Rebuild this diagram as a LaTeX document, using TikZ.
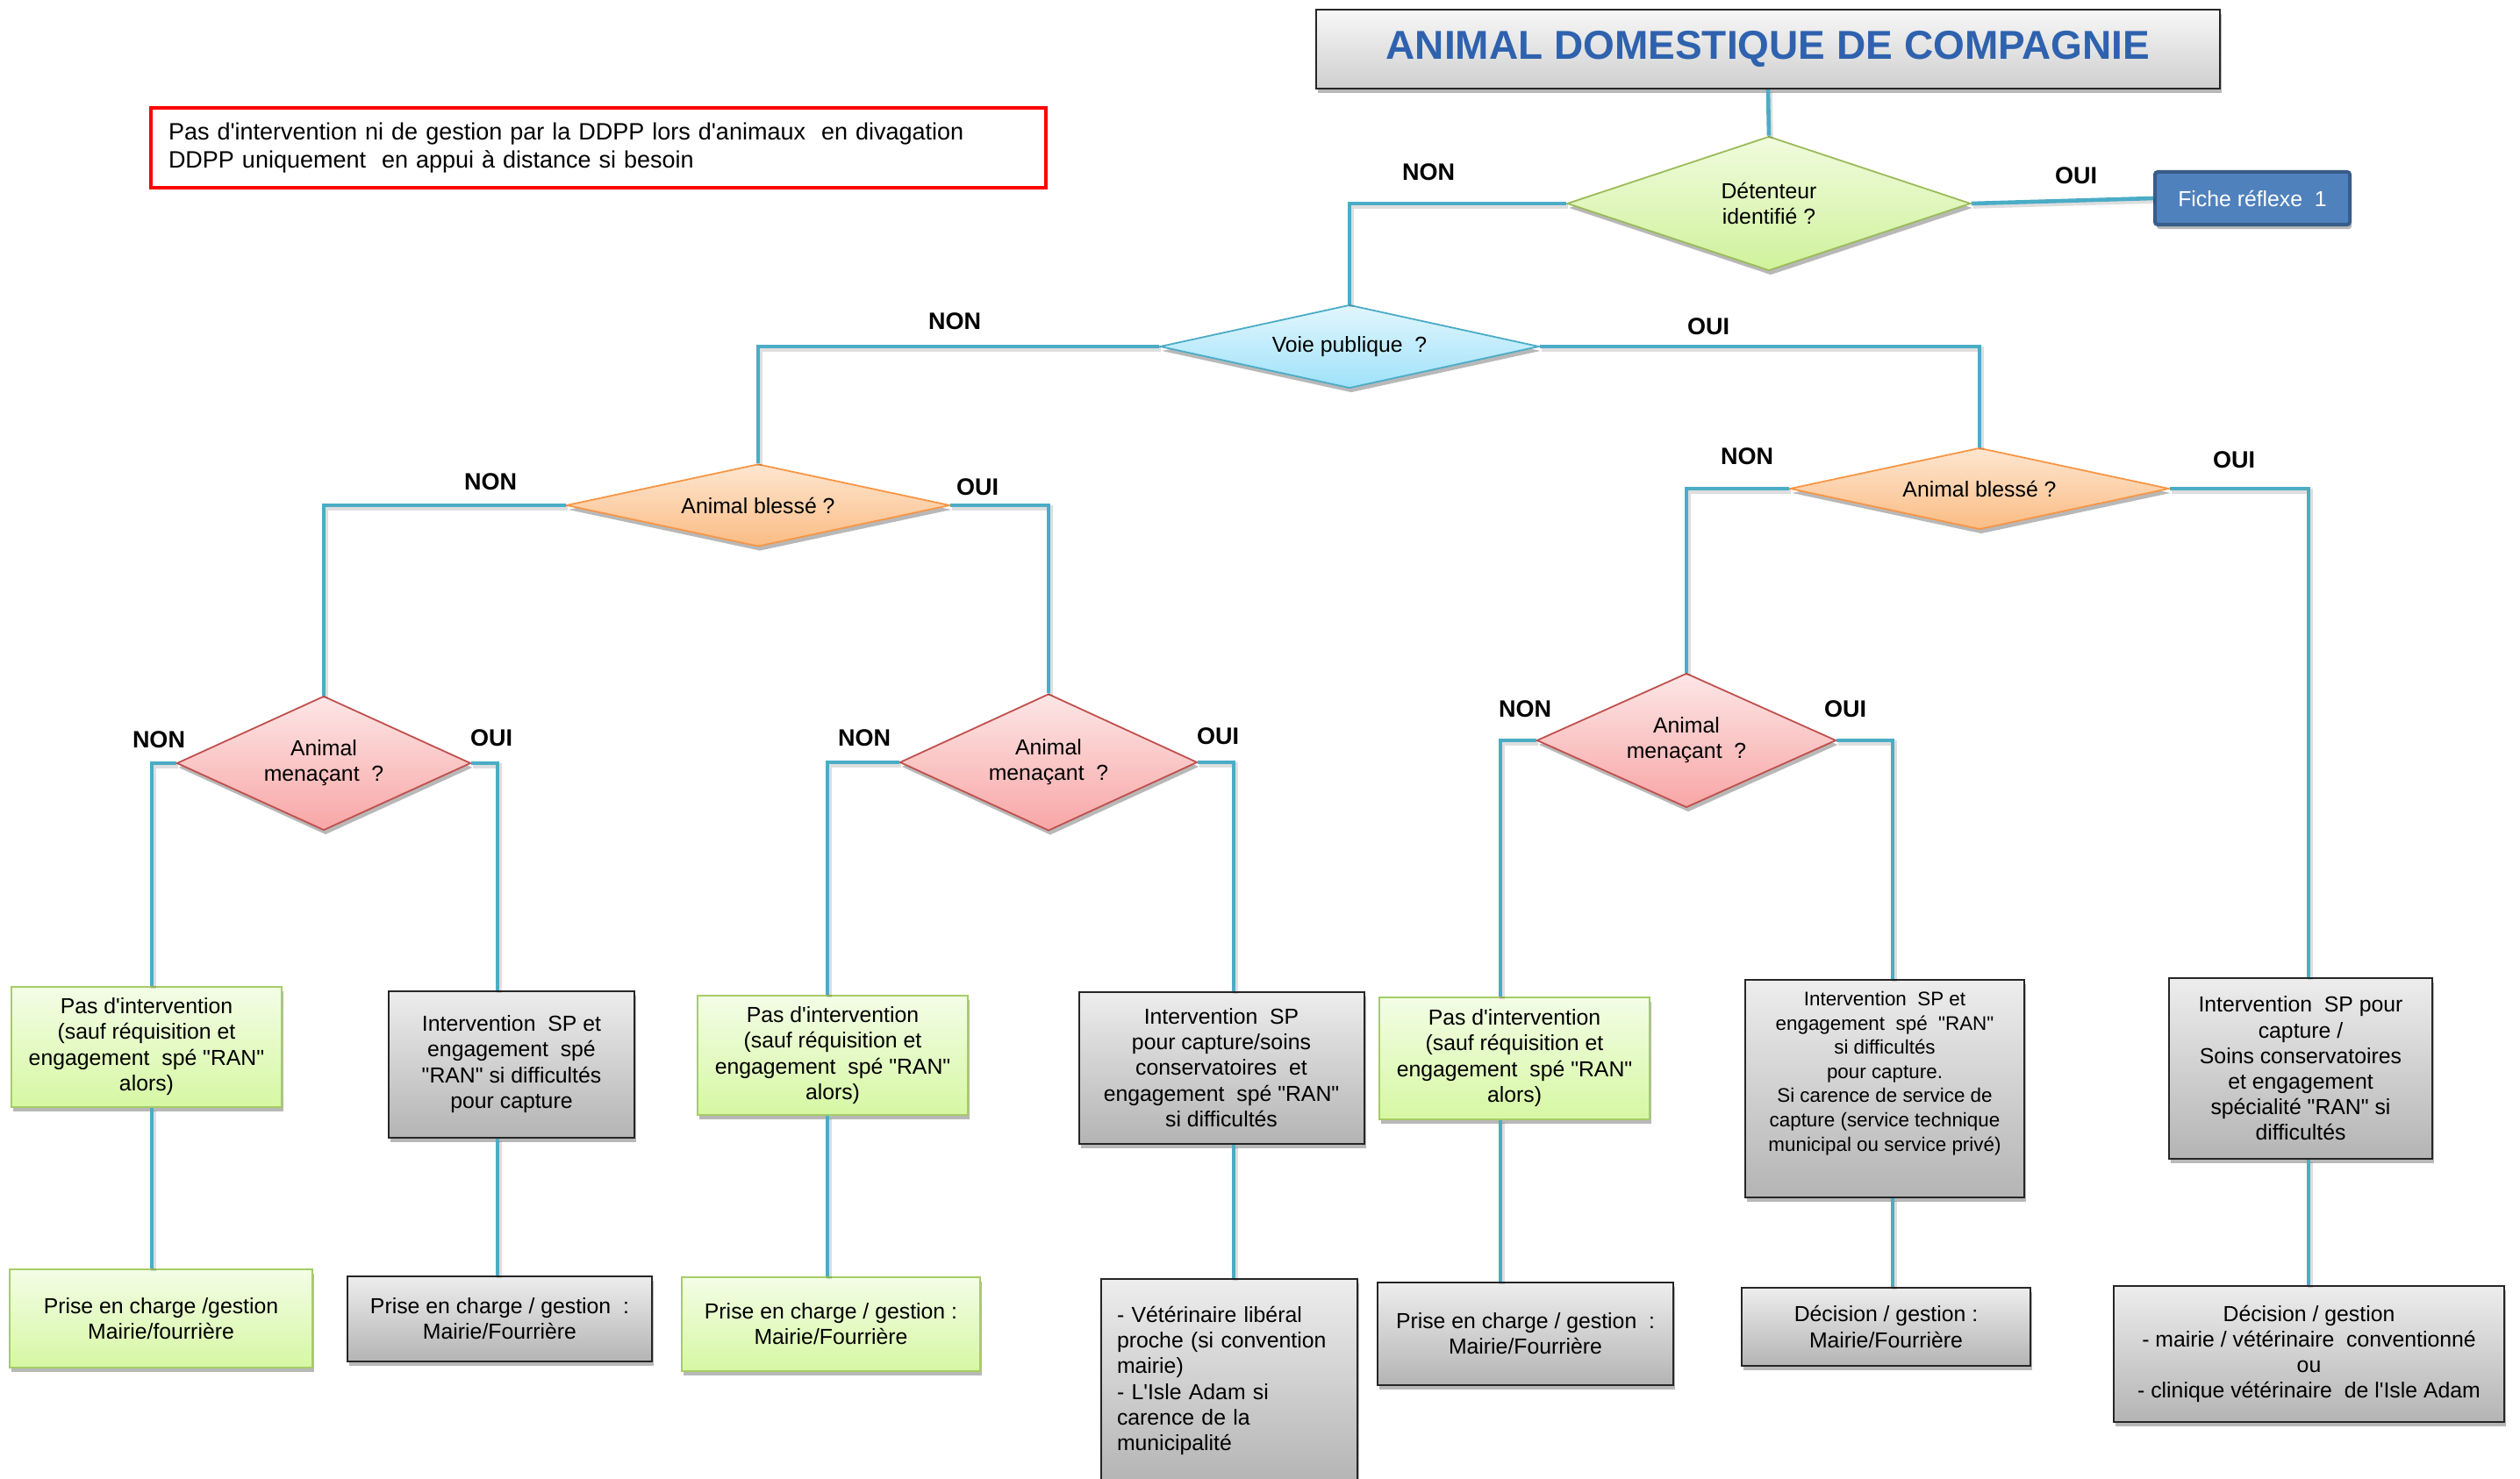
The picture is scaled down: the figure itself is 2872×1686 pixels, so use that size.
\documentclass[tikz,border=0pt]{standalone}
\usepackage{fontspec}
\setmainfont{Liberation Sans}[Ligatures=TeXOff]
\usetikzlibrary{shapes.geometric,shadows,calc}
\definecolor{connc}{HTML}{4BACC6}
\definecolor{titleblue}{HTML}{2F62AE}
\definecolor{grTop}{HTML}{EDEDED}
\definecolor{grBot}{HTML}{B4B4B4}
\definecolor{gnTop}{HTML}{F3FDE6}
\definecolor{gnBot}{HTML}{D6F7A3}
\definecolor{gnBorder}{HTML}{A6CC66}
\definecolor{orTop}{HTML}{FDE6D0}
\definecolor{orBot}{HTML}{FBBC84}
\definecolor{orBorder}{HTML}{F79646}
\definecolor{pkTop}{HTML}{FDE6E6}
\definecolor{pkBot}{HTML}{F8A6A6}
\definecolor{pkBorder}{HTML}{C0504D}
\definecolor{blTop}{HTML}{E2F6FD}
\definecolor{blBot}{HTML}{9FE2FA}
\definecolor{dgTop}{HTML}{F0FBDD}
\definecolor{dgBot}{HTML}{D0F29C}
\definecolor{dgBorder}{HTML}{9BBB59}
\definecolor{ficheFill}{HTML}{4F81BD}
\definecolor{ficheBorder}{HTML}{385D8A}
\tikzset{
  txt/.style={font=\fontsize{12.4}{14.6}\selectfont, align=center, inner sep=0pt},
  conn/.style={draw=connc, line width=2.3pt,
    preaction={draw=black, opacity=0.13, line width=2.8pt, transform canvas={xshift=1pt, yshift=-1.5pt}}},
  lbl/.style={font=\bfseries\fontsize{13.5}{15}\selectfont, inner sep=0pt},
  shad/.style={drop shadow={shadow xshift=1pt, shadow yshift=-2.5pt, opacity=0.28, fill=black}},
  graybox/.style={txt, rectangle, draw=black!85, line width=1pt, top color=grTop, bottom color=grBot, shad},
  greenbox/.style={txt, rectangle, draw=gnBorder, line width=1pt, top color=gnTop, bottom color=gnBot, shad},
  dia/.style={diamond, inner sep=0pt, line width=0.9pt, shad},
  orangedia/.style={dia, draw=orBorder, top color=orTop, bottom color=orBot},
  pinkdia/.style={dia, draw=pkBorder, top color=pkTop, bottom color=pkBot},
  bluedia/.style={dia, draw=connc, top color=blTop, bottom color=blBot},
  greendia/.style={dia, draw=dgBorder, top color=dgTop, bottom color=dgBot},
}
\begin{document}
\begin{tikzpicture}[x=0.5pt,y=-0.5pt]
\useasboundingbox (0,0) rectangle (2872,1686);
\clip (0,0) rectangle (2872,1686);

% title
\node[rectangle, draw=black!85, line width=1.2pt, top color=gray!6, bottom color=gray!38, shad,
      minimum width=515pt, minimum height=45pt, inner sep=0pt,
      font=\bfseries\fontsize{23}{26}\selectfont, text=titleblue] (title) at (2015,56) {ANIMAL DOMESTIQUE DE COMPAGNIE};

% note
\node[rectangle, draw=red, line width=2pt, fill=white, minimum width=510pt, minimum height=45.5pt,
      text width=490pt, align=left, inner sep=0pt, font=\fontsize{13.5}{15.8}\selectfont] (note) at (682,168.5)
      {Pas d'intervention ni de gestion par la DDPP lors d'animaux\ \ en divagation\\DDPP uniquement\ \ en appui à distance si besoin};

% diamonds
\node[greendia, minimum width=230pt, minimum height=76.5pt] (det) at (2016,232) {};
\node[txt] (detT) at (det) {Détenteur\\identifié ?};
\node[rectangle, draw=ficheBorder, line width=2pt, rounded corners=1.5pt, fill=ficheFill, shad, minimum width=111pt, minimum height=30pt,
      inner sep=0pt, text=white, font=\fontsize{12.4}{14.6}\selectfont] (fiche) at (2567,226) {Fiche réflexe\ \ 1};

\node[bluedia, minimum width=216pt, minimum height=47.5pt] (voie) at (1538,395) {};
\node[txt] (voieT) at (voie) {Voie publique\ \ ?};

\node[orangedia, minimum width=218.5pt, minimum height=47pt] (ab1) at (864,576) {};
\node[txt] (ab1T) at (ab1) {Animal blessé ?};
\node[orangedia, minimum width=216pt, minimum height=46.5pt] (ab2) at (2256,557) {};
\node[txt] (ab2T) at (ab2) {Animal blessé ?};

\node[pinkdia, minimum width=167.5pt, minimum height=76.5pt] (m1) at (369,870) {};
\node[txt] (m1T) at (m1) {Animal\\menaçant\ \ ?};
\node[pinkdia, minimum width=169.5pt, minimum height=78pt] (m2) at (1195,869) {};
\node[txt] (m2T) at (m2) {Animal\\menaçant\ \ ?};
\node[pinkdia, minimum width=170.5pt, minimum height=76.5pt] (m3) at (1922,844) {};
\node[txt] (m3T) at (m3) {Animal\\menaçant\ \ ?};

% middle boxes
\node[greenbox, minimum width=154pt, minimum height=68.5pt] (b1) at (167,1193)
  {Pas d'intervention\\(sauf réquisition et\\engagement\ \ spé "RAN"\\alors)};
\node[graybox, minimum width=140pt, minimum height=83.5pt] (b2) at (583,1213)
  {Intervention\ \ SP et\\engagement\ \ spé\\"RAN" si difficultés\\pour capture};
\node[greenbox, minimum width=154pt, minimum height=68pt] (b3) at (949,1203)
  {Pas d'intervention\\(sauf réquisition et\\engagement\ \ spé "RAN"\\alors)};
\node[graybox, minimum width=162.5pt, minimum height=86.5pt] (b4) at (1392,1217)
  {Intervention\ \ SP\\pour capture/soins\\conservatoires\ \ et\\engagement\ \ spé "RAN"\\si difficultés};
\node[greenbox, minimum width=154pt, minimum height=69.5pt] (b5) at (1726,1206)
  {Pas d'intervention\\(sauf réquisition et\\engagement\ \ spé "RAN"\\alors)};
\node[graybox, minimum width=159pt, minimum height=124pt, font=\fontsize{11.2}{13.8}\selectfont] (b6) at (2148,1241)
  {Intervention\ \ SP et\\engagement\ \ spé\ \ "RAN"\\si difficultés\\pour capture.\\Si carence de service de\\capture (service technique\\municipal ou service privé)\\[6pt]};
\node[graybox, minimum width=150pt, minimum height=103pt] (b7) at (2622,1218)
  {Intervention\ \ SP pour\\capture /\\Soins conservatoires\\et engagement\\spécialité "RAN" si\\difficultés};

% bottom boxes
\node[greenbox, minimum width=172.5pt, minimum height=56pt] (c1) at (183.5,1503)
  {Prise en charge /gestion\\Mairie/fourrière};
\node[graybox, minimum width=173.5pt, minimum height=48.5pt] (c2) at (569.5,1503.5)
  {Prise en charge / gestion\ \ :\\Mairie/Fourrière};
\node[greenbox, minimum width=170pt, minimum height=53.5pt] (c3) at (947,1509.5)
  {Prise en charge / gestion :\\Mairie/Fourrière};
\node[graybox, minimum width=146pt, minimum height=116pt, text width=128pt, align=left] (c4) at (1401,1574)
  {- Vétérinaire libéral\\proche (si convention\\mairie)\\- L'Isle Adam si\\carence de la\\municipalité};
\node[graybox, minimum width=168.5pt, minimum height=58.5pt] (c5) at (1738.5,1520.5)
  {Prise en charge / gestion\ \ :\\Mairie/Fourrière};
\node[graybox, minimum width=164.5pt, minimum height=44.5pt] (c6) at (2149.5,1512.5)
  {Décision / gestion :\\Mairie/Fourrière};
\node[graybox, minimum width=222.5pt, minimum height=77.5pt] (c7) at (2631.5,1543.5)
  {Décision / gestion\\- mairie / vétérinaire\ \ conventionné\\ou\\- clinique vétérinaire\ \ de l'Isle Adam};

% connectors
\draw[conn] (title.south) -- (det.north);
\draw[conn] (det.east) -- (fiche.west);
\draw[conn] (det.west) -| (voie.north);
\draw[conn] (voie.west) -| (ab1.north);
\draw[conn] (voie.east) -| (ab2.north);
\draw[conn] (ab1.west) -| (m1.north);
\draw[conn] (ab1.east) -| (m2.north);
\draw[conn] (ab2.west) -| (m3.north);
\draw[conn] (ab2.east) -| ([xshift=4.5pt]b7.north);
\draw[conn] (m1.west) -| ([xshift=3pt]b1.north);
\draw[conn] (m1.east) -| ([xshift=-8pt]b2.north);
\draw[conn] (m2.west) -| ([xshift=-3pt]b3.north);
\draw[conn] (m2.east) -| ([xshift=7pt]b4.north);
\draw[conn] (m3.west) -| ([xshift=-8pt]b5.north);
\draw[conn] (m3.east) -| ([xshift=4.5pt]b6.north);
\draw[conn] ([xshift=3pt]b1.south) -- ([xshift=3pt]b1.south |- c1.north);
\draw[conn] ([xshift=-8pt]b2.south) -- ([xshift=-8pt]b2.south |- c2.north);
\draw[conn] ([xshift=-3pt]b3.south) -- ([xshift=-3pt]b3.south |- c3.north);
\draw[conn] ([xshift=7pt]b4.south) -- ([xshift=7pt]b4.south |- c4.north);
\draw[conn] ([xshift=-8pt]b5.south) -- ([xshift=-8pt]b5.south |- c5.north);
\draw[conn] ([xshift=4.5pt]b6.south) -- ([xshift=4.5pt]b6.south |- c6.north);
\draw[conn] ([xshift=4.5pt]b7.south) -- ([xshift=4.5pt]b7.south |- c7.north);

% labels
\node[lbl] (l1) at (1628,196) {NON};
\node[lbl] (l2) at (2366,200) {OUI};
\node[lbl] (l3) at (1088,366) {NON};
\node[lbl] (l4) at (1947,372) {OUI};
\node[lbl] (l5) at (559,549) {NON};
\node[lbl] (l6) at (1114,555) {OUI};
\node[lbl] (l7) at (1991,520) {NON};
\node[lbl] (l8) at (2546,524) {OUI};
\node[lbl] (l9) at (181,843) {NON};
\node[lbl] (l10) at (560,841) {OUI};
\node[lbl] (l11) at (985,841) {NON};
\node[lbl] (l12) at (1388,839) {OUI};
\node[lbl] (l13) at (1738,808) {NON};
\node[lbl] (l14) at (2103,808) {OUI};
\end{tikzpicture}
\end{document}
